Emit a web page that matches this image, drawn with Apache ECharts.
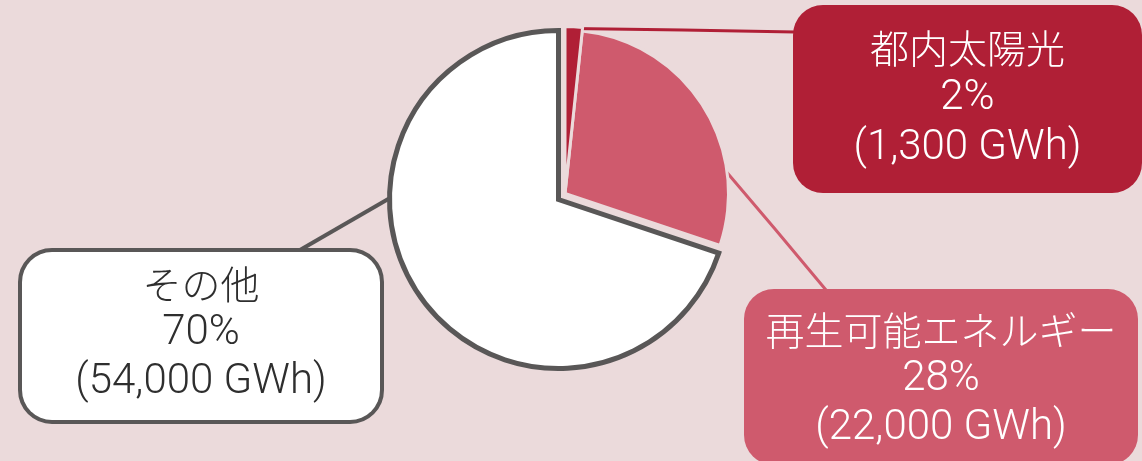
<!DOCTYPE html>
<html>
<head>
<meta charset="utf-8">
<script src="https://cdn.jsdelivr.net/npm/echarts@6/dist/echarts.min.js"></script>
<style>
html,body{margin:0;padding:0;background:#ebdadb;}
#chart{width:1142px;height:461px;}
</style>
</head>
<body>
<div id="chart"></div>
<script>
// ---- data ----
const categories = ['都内太陽光', '再生可能エネルギー', 'その他'];
const values = [1300, 22000, 54000];
const unit = 'GWh';

const BG = '#ebdadb';
const FONT = "Roboto, 'Noto Sans CJK JP', sans-serif";

function fmt(p) {
  return '{n|' + p.name + '}\n' + Math.round(p.percent) + '%\n(' +
    p.value.toLocaleString('en-US') + ' ' + unit + ')';
}

// Builds one pie series that owns a single slice (others transparent)
function ownerSeries(owner, cfg) {
  return {
    type: 'pie',
    center: cfg.center,
    radius: [0, cfg.r],
    startAngle: 90,
    clockwise: true,
    avoidLabelOverlap: false,
    silent: true,
    emphasis: { disabled: true },
    z: cfg.z,
    data: categories.map((c, i) => {
      if (i === owner) {
        return {
          name: c, value: values[i],
          itemStyle: { color: cfg.color, borderColor: cfg.borderColor, borderWidth: cfg.borderWidth, borderJoin: 'miter' },
          label: Object.assign({
            show: true, position: 'outside', formatter: fmt,
            fontFamily: FONT, fontSize: 42, fontWeight: 300,
            align: 'center', overflow: 'none', borderRadius: 30,
            rich: { n: { fontFamily: "'Noto Sans CJK JP', sans-serif", fontSize: 39, fontWeight: 300,
                         color: cfg.label.color, lineHeight: cfg.label.lineHeight } }
          }, cfg.label),
          labelLine: { show: true, smooth: false, lineStyle: cfg.lineStyle }
        };
      }
      return {
        name: c, value: values[i],
        itemStyle: { color: 'transparent', borderWidth: 0 },
        label: { show: false }, labelLine: { show: false }
      };
    }),
    labelLayout: function () { return cfg.layout; }
  };
}

const chart = echarts.init(document.getElementById('chart'), null, { renderer: 'canvas' });
chart.setOption({
  backgroundColor: BG,
  animation: false,
  series: [
    ownerSeries(2, {
      center: [558.5, 199.5], r: 169, z: 2,
      color: '#ffffff', borderColor: '#595757', borderWidth: 5,
      label: { color: '#2e2e2e', backgroundColor: '#ffffff', borderColor: '#595757', borderWidth: 4,
               width: 358, lineHeight: 49, padding: [7.5, 0, 13.5, 0] },
      lineStyle: { color: '#595757', width: 4 },
      layout: { x: 201, y: 252, align: 'center', verticalAlign: 'top',
                labelLinePoints: [[390, 198], [345, 224], [300, 250]] }
    }),
    ownerSeries(1, {
      center: [565, 193.5], r: 163.5, z: 3,
      color: '#cf5a6d', borderColor: BG, borderWidth: 3,
      label: { color: '#ffffff', backgroundColor: '#cf5a6d',
               width: 394, lineHeight: 49, padding: [17, 0, 12, 0] },
      lineStyle: { color: '#cf5a6d', width: 3 },
      layout: { x: 941, y: 289, align: 'center', verticalAlign: 'top',
                labelLinePoints: [[724, 169], [775, 229], [826, 290]] }
    }),
    ownerSeries(0, {
      center: [565, 193.5], r: 167, z: 4,
      color: '#b01f36', borderColor: BG, borderWidth: 3,
      label: { color: '#ffffff', backgroundColor: '#b01f36',
               width: 349, lineHeight: 50, padding: [18, 0, 20, 0] },
      lineStyle: { color: '#b01f36', width: 3 },
      layout: { x: 967.5, y: 5, align: 'center', verticalAlign: 'top',
                labelLinePoints: [[572, 28.5], [683, 30], [795, 32]] }
    })
  ]
});
</script>
</body>
</html>
